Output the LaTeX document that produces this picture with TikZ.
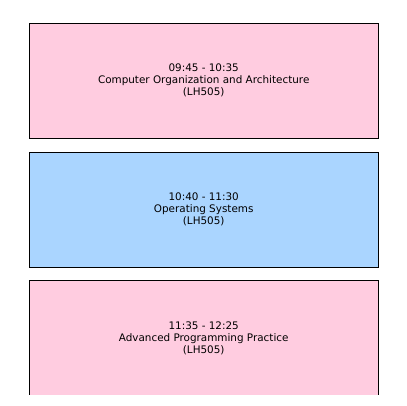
\documentclass[tikz,border=0pt]{standalone}
\usepackage{fontspec}
\setmainfont{DejaVu Sans}
\usetikzlibrary{positioning}
\definecolor{slotpink}{RGB}{255,204,224}
\definecolor{slotblue}{RGB}{170,213,255}
\begin{document}
\begin{tikzpicture}[x=1pt, y=-1pt,
    slot/.style={draw=black, line width=0.9pt, minimum width=348.5pt, minimum height=115pt,
      inner sep=0pt, align=center, font=\fontsize{10.4}{12}\selectfont}]
    \useasboundingbox (0,0) rectangle (407,405);
    \clip (0,0) rectangle (407,394.5);
    \node [slot, fill=slotpink, anchor=north west] (coa) at (29,22.8) {09:45 - 10:35\\Computer Organization and Architecture\\(LH505)};
    \node [slot, fill=slotblue, below=12.8pt of coa] (os) {10:40 - 11:30\\Operating Systems\\(LH505)};
    \node [slot, fill=slotpink, below=12.8pt of os] (app) {11:35 - 12:25\\Advanced Programming Practice\\(LH505)};
\end{tikzpicture}
\end{document}
